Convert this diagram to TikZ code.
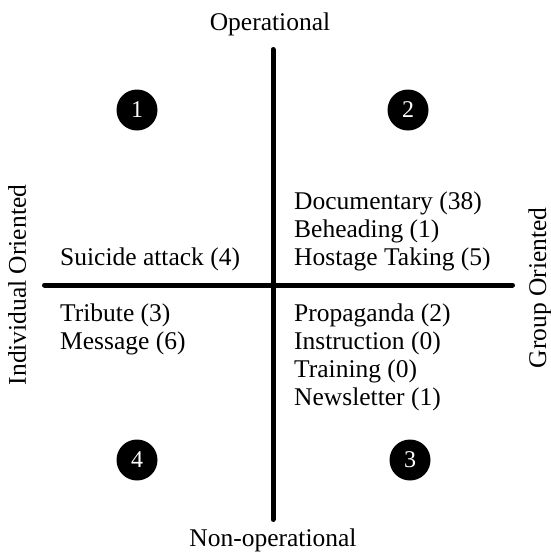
\documentclass[tikz,border=0pt]{standalone}
\usepackage{fontspec}
\setmainfont{Liberation Serif}
\begin{document}
\begin{tikzpicture}[x=1pt,y=-1pt,
  lbl/.style={inner sep=0pt, anchor=base west, font=\fontsize{25.5}{28}\selectfont},
  axisline/.style={line width=5pt, line cap=round},
  num/.style={circle, fill=black, minimum size=41pt, inner sep=0pt, text=white, font=\fontsize{24}{24}\selectfont},
  axislbl/.style={inner sep=0pt, anchor=base, font=\fontsize{25.5}{28}\selectfont}]
\useasboundingbox (0,0) rectangle (551,555);
\coordinate (top) at (273,49.5);
\coordinate (bot) at (273,519.5);
\coordinate (lft) at (44.5,285);
\coordinate (rgt) at (512.5,285);
\draw[axisline] (top) -- (bot);
\draw[axisline] (lft) -- (rgt);
\node[axislbl] (op) at (270,30) {Operational};
\node[axislbl] (nonop) at (273,546) {Non-operational};
\node[axislbl, rotate=90] (ind) at (26,285) {Individual Oriented};
\node[axislbl, rotate=90] (grp) at (546,288) {Group Oriented};
\node[num] (n1) at (137,110) {1};
\node[num] (n2) at (408,110) {2};
\node[num] (n3) at (410,460) {3};
\node[num] (n4) at (137,460) {4};
\node[lbl] (doc) at (294,209) {Documentary (38)};
\node[lbl] (beh) at (294,237) {Beheading (1)};
\node[lbl] (hos) at (294,265) {Hostage Taking (5)};
\node[lbl] (sui) at (60,265) {Suicide attack (4)};
\node[lbl] (tri) at (60,321) {Tribute (3)};
\node[lbl] (mes) at (60,349) {Message (6)};
\node[lbl] (pro) at (294,321) {Propaganda (2)};
\node[lbl] (ins) at (294,349) {Instruction (0)};
\node[lbl] (tra) at (294,377) {Training (0)};
\node[lbl] (new) at (294,405) {Newsletter (1)};
\end{tikzpicture}
\end{document}
